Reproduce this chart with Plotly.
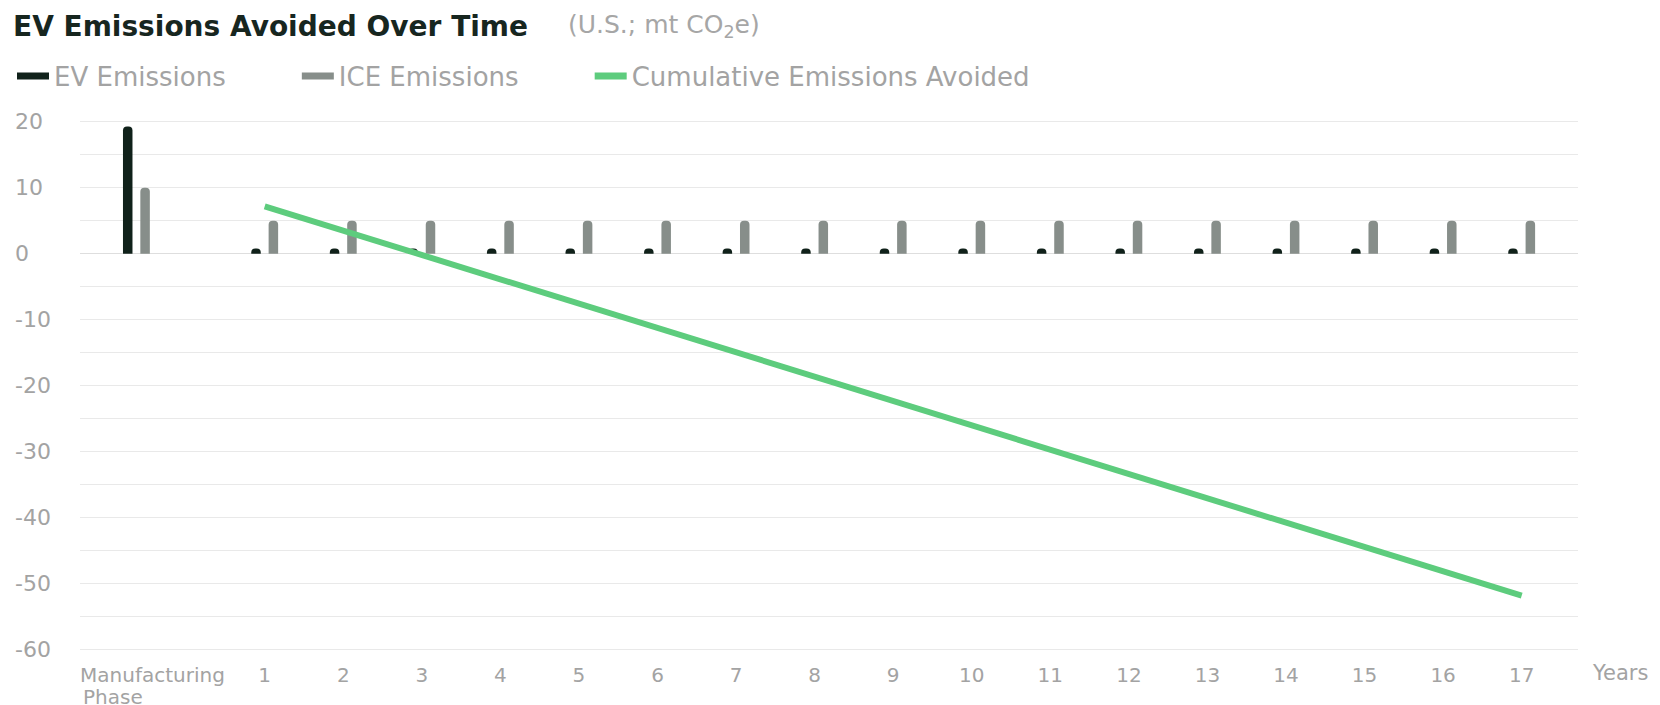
import plotly.graph_objects as go

# Life-cycle emissions per period (U.S.; mt CO2e)
categories = ["Manufacturing Phase"] + [str(y) for y in range(1, 18)]
ev_emissions = [19.3] + [0.8] * 17
ice_emissions = [10.0] + [5.0] * 17
cumulative_avoided = [None, 7.2, 3.5, -0.2, -3.9, -7.6, -11.3, -15.0, -18.7,
                      -22.4, -26.0, -29.7, -33.4, -37.1, -40.8, -44.5, -48.2, -51.9]

y_ticks = [20, 10, 0, -10, -20, -30, -40, -50, -60]

EV_COLOR = "#10211a"
ICE_COLOR = "#878e8a"
AVOIDED_COLOR = "#5dcc7d"
GRID_COLOR = "#e9e9e9"
LABEL_COLOR = "#a3a3a3"
FONT = "'DejaVu Sans', sans-serif"

NBSP = "\u00a0"

# Plot-area geometry in pixels
PLOT_LEFT, PLOT_WIDTH = 80, 1498
PLOT_BOTTOM, PLOT_HEIGHT = 651, 531

# Manufacturing sits a little apart from the yearly columns
x_pos = [-0.633] + [int(c) for c in categories[1:]]
label_pos = [-0.428] + x_pos[1:]
first_word, second_word = categories[0].split(" ")
tick_text = [first_word] + categories[1:]

fig = go.Figure()

fig.add_trace(go.Bar(
    x=x_pos, y=ev_emissions, name="EV Emissions",
    marker=dict(color=EV_COLOR, line=dict(width=0)),
    width=0.121, offset=-0.171, showlegend=False,
))
fig.add_trace(go.Bar(
    x=x_pos, y=ice_emissions, name="ICE Emissions",
    marker=dict(color=ICE_COLOR, line=dict(width=0)),
    width=0.121, offset=0.050, showlegend=False,
))
fig.add_trace(go.Scatter(
    x=x_pos, y=cumulative_avoided, name="Cumulative Emissions Avoided",
    mode="lines", line=dict(color=AVOIDED_COLOR, width=6),
    showlegend=False, connectgaps=False,
))

# Legend entries drawn as short strokes
legend_items = [
    ("EV Emissions" + NBSP * 8, EV_COLOR),
    ("ICE Emissions" + NBSP * 8, ICE_COLOR),
    ("Cumulative Emissions Avoided", AVOIDED_COLOR),
]
for name, color in legend_items:
    fig.add_trace(go.Scatter(
        x=[None], y=[None], name=name, mode="lines",
        line=dict(color=color, width=7),
    ))

fig.update_layout(
    width=1660, height=705,
    margin=dict(l=80, r=82, t=120, b=54, autoexpand=False),
    paper_bgcolor="white", plot_bgcolor="white",
    barmode="overlay", barcornerradius=4.5,
    font=dict(family=FONT, color=LABEL_COLOR, size=21),
    title=dict(
        text="<b>EV Emissions Avoided Over Time</b>",
        font=dict(family=FONT, size=28, color="#17261f"),
        xref="container", yref="container",
        x=13 / 1660, xanchor="left", y=1 - 26 / 705, yanchor="middle",
    ),
    legend=dict(
        orientation="h", xref="container", yref="container",
        x=12 / 1660, xanchor="left", y=1 - 76 / 705, yanchor="middle",
        itemwidth=32,
        font=dict(family=FONT, size=26, color=LABEL_COLOR),
        itemclick=False, itemdoubleclick=False,
        bgcolor="rgba(0,0,0,0)",
    ),
    showlegend=True,
)

fig.add_annotation(
    text="(U.S.; mt CO<sub>2</sub>e)",
    xref="paper", yref="paper",
    x=(566 - PLOT_LEFT) / PLOT_WIDTH, y=(PLOT_BOTTOM - 26) / PLOT_HEIGHT,
    xanchor="left", yanchor="middle", showarrow=False,
    font=dict(family=FONT, size=25, color="#a6a6a6"),
)

fig.update_xaxes(
    range=[-1.351, 17.717], automargin=False,
    tickmode="array", tickvals=label_pos, ticktext=tick_text,
    showgrid=False, zeroline=False, showline=False, ticks="",
    tickfont=dict(family=FONT, size=20, color=LABEL_COLOR),
    ticklabelstandoff=10,
)
fig.update_yaxes(
    range=[-60.3, 20.3], automargin=False,
    tickmode="array", tickvals=y_ticks, showticklabels=False,
    showgrid=True, gridcolor=GRID_COLOR, gridwidth=1,
    minor=dict(dtick=5, tick0=0, showgrid=True, gridcolor=GRID_COLOR, gridwidth=1),
    zeroline=True, zerolinecolor="#dedede", zerolinewidth=1,
    showline=False, ticks="",
)

# Second line of the manufacturing label, flush left under the first
fig.add_annotation(
    text=second_word, xref="paper", yref="paper",
    x=(82 - PLOT_LEFT) / PLOT_WIDTH, y=0, xanchor="left", yanchor="middle",
    yshift=-46, borderpad=0, showarrow=False,
    font=dict(family=FONT, size=20, color=LABEL_COLOR),
)

# Left-aligned value labels for the y axis
for v in y_ticks:
    fig.add_annotation(
        text=str(v), xref="paper", yref="y", x=0, y=v,
        xanchor="left", yanchor="middle", xshift=-67, showarrow=False,
        font=dict(family=FONT, size=22, color=LABEL_COLOR),
    )

fig.add_annotation(
    text="Years", xref="paper", yref="paper", x=1, y=0,
    xanchor="left", yanchor="middle", xshift=12, yshift=-22,
    showarrow=False, font=dict(family=FONT, size=21, color=LABEL_COLOR),
)

fig.write_html("out.html")
